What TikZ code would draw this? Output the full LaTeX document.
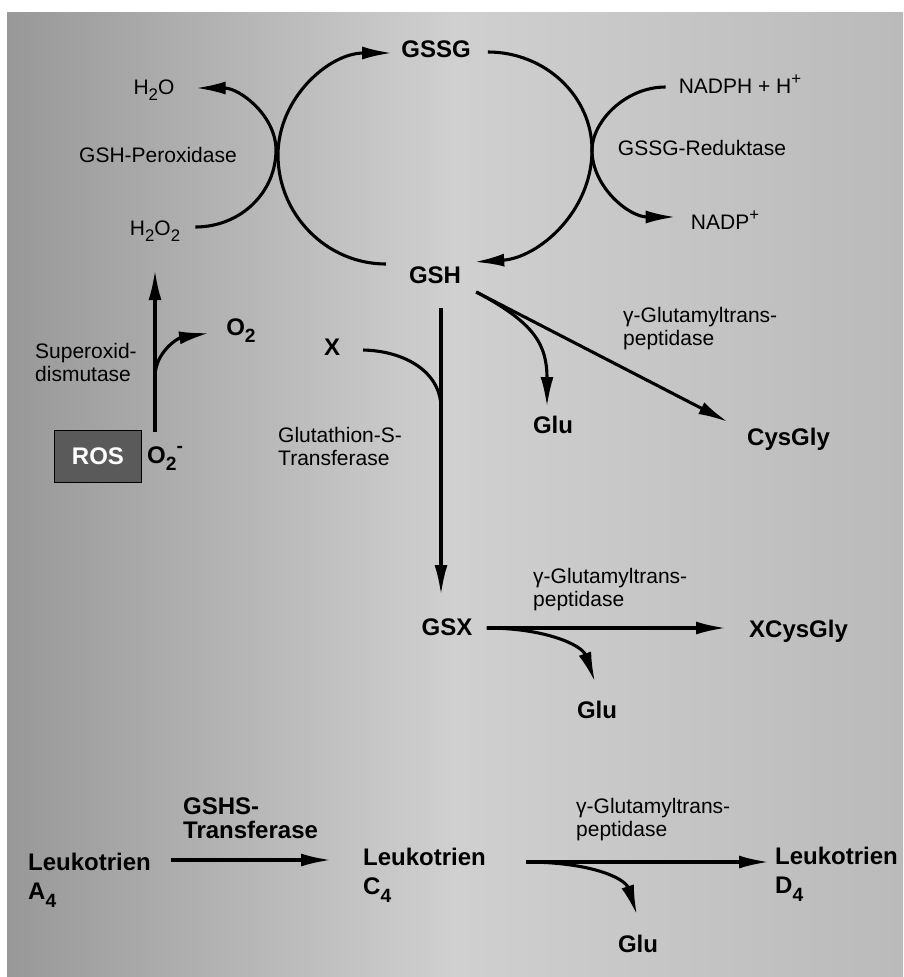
\documentclass[tikz,border=0pt]{standalone}
\usepackage{fontspec}
\usepackage{graphicx}
\setmainfont{Liberation Sans}
\usetikzlibrary{arrows.meta,calc}
\definecolor{bgdark}{HTML}{989898}
\definecolor{bglight}{HTML}{D0D0D0}
\definecolor{bgright}{HTML}{BABABA}
\definecolor{rosfill}{HTML}{5A5A5A}
\newcommand\enzfont{\fontsize{21}{23}\selectfont}
\newcommand\molfont{\fontsize{24}{29}\selectfont\bfseries}
% large lowered / raised indices as in the printed formulas
\newcommand\lowidx[1]{\raisebox{-0.32em}{\scalebox{0.8}{#1}}}
\newcommand\highidx[1]{\raisebox{0.42em}{\scalebox{0.8}{#1}}}

\begin{document}
\begin{tikzpicture}[x=1pt,y=-1pt,
  lbl/.style={inner sep=0pt, font=\enzfont},
  mol/.style={inner sep=0pt, font=\molfont},
  arr/.style={line width=3.1pt, -{Latex[length=30pt,width=13pt]}},
  ln/.style={line width=3.1pt},
]
\useasboundingbox (0,0) rectangle (903,977);
% paper background
\shade[left color=bgdark, right color=bgright, middle color=bglight] (7,12) rectangle (903,977);

% glutathione cycle
\node[mol, anchor=base] (gssg) at (436,57) {GSSG};
\node[mol, anchor=base] (gsh) at (435,283) {GSH};
\node[lbl, anchor=base] (h2o) at (154,94) {H\lowidx{2}O};
\node[lbl, anchor=base] (h2o2) at (155,235) {H\lowidx{2}O\lowidx{2}};
\node[lbl, anchor=base] (perox) at (158,162) {GSH-Peroxidase};
\node[lbl, anchor=base] (nadph) at (740,93) {NADPH + H\highidx{+}};
\node[lbl, anchor=base] (nadp) at (725,229) {NADP\highidx{+}};
\node[lbl, anchor=base] (redukt) at (702,155) {GSSG-Reduktase};

% superoxide dismutase
\node[mol, anchor=base] (o2) at (241,335) {O\lowidx{2}};
\node[lbl, anchor=north west, align=left] (sod) at (35,343) {Superoxid-\\dismutase};
\node[draw=black, line width=0.8pt, fill=rosfill, minimum width=87pt, minimum height=52pt,
      inner sep=0pt, text=white, font=\molfont] (ros) at (98,456) {ROS};
\node[mol, anchor=base west] (o2m) at (147,463) {O\lowidx{2}\highidx{-}};

% conjugation and degradation
\node[mol, anchor=base] (x) at (332,355) {X};
\node[lbl, anchor=north west, align=left] (gst) at (278,427) {Glutathion-S-\\Transferase};
\node[lbl, anchor=north west, align=left] (ggt1) at (623,307) {γ-Glutamyltrans-\\peptidase};
\node[mol, anchor=base] (glu1) at (553,433) {Glu};
\node[mol, anchor=base west] (cysgly) at (747,445) {CysGly};
\node[mol, anchor=base] (gsx) at (447,635) {GSX};
\node[mol, anchor=base west] (xcysgly) at (749,637) {XCysGly};
\node[lbl, anchor=north west, align=left] (ggt2) at (533,568) {γ-Glutamyltrans-\\peptidase};
\node[mol, anchor=base] (glu2) at (597,718) {Glu};

% leukotrienes
\node[inner sep=0pt, anchor=north west, align=left, font={\fontsize{24}{24}\selectfont\bfseries}] (gshs) at (183,798) {GSHS-\\Transferase};
\node[lbl, anchor=north west, align=left] (ggt3) at (576,798) {γ-Glutamyltrans-\\peptidase};
\node[mol, anchor=north west, align=left] (lta4) at (28,853) {Leukotrien\\A\lowidx{4}};
\node[mol, anchor=north west, align=left] (ltc4) at (363,848) {Leukotrien\\C\lowidx{4}};
\node[mol, anchor=north west, align=left] (ltd4) at (775,847) {Leukotrien\\D\lowidx{4}};
\node[mol, anchor=base] (glu3) at (638,952) {Glu};

% redox cycle GSH <-> GSSG
\draw[arr] ($(gsh.base west)+(-23,-19)$) .. controls (327,264) and (278,215) .. (278,155)
  .. controls (278,98) and (329,53) .. ($(gssg.base west)+(-9,-4)$);
\draw[arr] ($(gssg.base east)+(17,-5)$) .. controls (545,52) and (592,96) .. (592,150)
  .. controls (592,212) and (538,258) .. ($(gsh.base east)+(13,-21)$);

% peroxidase: H2O2 -> H2O
\draw[arr] ($(h2o2.base east)+(15,-8)$) .. controls (241,227) and (276,192) .. (276,150)
  .. controls (276,116) and (240,88) .. ($(h2o.base east)+(21,-6)$);

% reductase: NADPH + H+ -> NADP+
\draw[arr] ($(nadph.base west)+(-13,-6)$) .. controls (625,87) and (592,122) .. (592,150)
  .. controls (592,187) and (629,217) .. ($(nadp.base west)+(-15,-12)$);

% superoxide dismutase: O2- -> H2O2 + O2
\coordinate (sodfoot) at ($(o2m.base west)+(8,-31)$);
\coordinate (sodtip) at ($(h2o2.base)+(0,35)$);
\draw[arr] (sodfoot) -- (sodfoot |- sodtip);
\draw[arr] ($(sodfoot)+(0,-55)$) .. controls ($(sodfoot)+(0,-80)$) and (178,338)
  .. ($(o2.base west)+(-17,-2)$);

% glutathione-S-transferase: GSH + X -> GSX
\coordinate (gshfoot) at ($(gsh.base)+(6,25)$);
\coordinate (gsxtop) at ($(gsx.base)+(0,-40)$);
\draw[arr] (gshfoot) -- (gshfoot |- gsxtop);
\draw[ln] ($(x.base east)+(23,-5)$) .. controls (405,351) and ($(gshfoot)+(0,64)$) .. ($(gshfoot)+(0,100)$);

% gamma-glutamyltranspeptidase on GSH
\coordinate (gshout) at ($(gsh.base east)+(15,9)$);
\draw[arr] (gshout) -- ($(cysgly.base west)+(-19,-23)$);
\draw[arr] (gshout) .. controls (535,323) and (547,345) .. ($(glu1.base)+(-6,-26)$);

% gamma-glutamyltranspeptidase on GSX
\coordinate (gsxout) at ($(gsx.base east)+(14,-7)$);
\coordinate (xcystip) at ($(xcysgly.base west)+(-23,0)$);
\draw[arr] (gsxout) -- (gsxout -| xcystip);
\draw[arr] (gsxout) .. controls (545,628) and (582,645) .. ($(glu2.base)+(-2,-36)$);

% leukotriene pathway
\coordinate (a4out) at ($(lta4.north east)+(20,7)$);
\coordinate (c4in) at ($(ltc4.north west)+(-32,0)$);
\draw[arr] (a4out) -- (a4out -| c4in);
\coordinate (c4out) at ($(ltc4.north east)+(40,14)$);
\coordinate (d4in) at ($(ltd4.north west)+(-6,0)$);
\draw[arr] (c4out) -- (c4out -| d4in);
\draw[arr] (c4out) .. controls (590,862) and (625,878) .. ($(glu3.base)+(-1,-37)$);
\end{tikzpicture}
\end{document}
